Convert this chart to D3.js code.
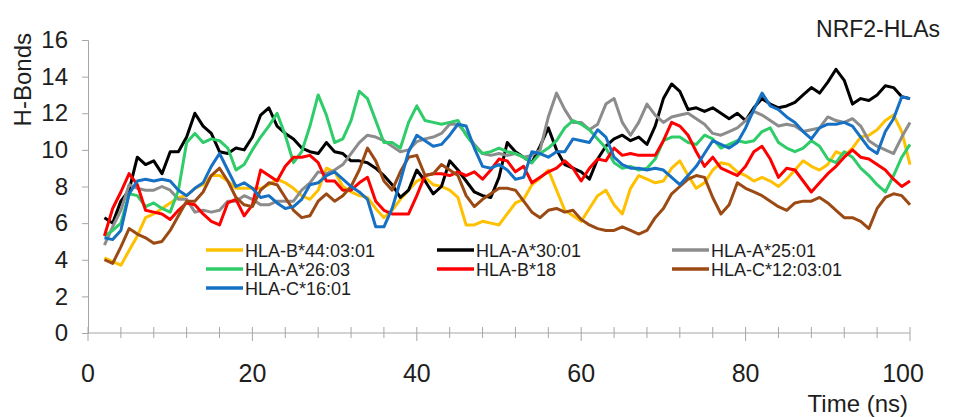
<!DOCTYPE html>
<html>
<head>
<meta charset="utf-8">
<script src="https://cdn.jsdelivr.net/npm/d3@7/dist/d3.min.js"></script>
<style>
  body { margin: 0; background: #fff; }
  svg { display: block; font-family: "Liberation Sans", Arial, sans-serif; }
</style>
</head>
<body>
<svg id="chart" width="955" height="417"></svg>
<script>
// time points (ns)
var times = [2,3,4,5,6,7,8,9,10,11,12,13,14,15,16,17,18,19,20,21,22,23,24,25,26,27,28,29,30,31,
  32,33,34,35,36,37,38,39,40,41,42,43,44,45,46,47,48,49,50,51,52,53,54,55,56,57,58,59,60,61,
  62,63,64,65,66,67,68,69,70,71,72,73,74,75,76,77,78,79,80,81,82,83,84,85,86,87,88,89,90,91,
  92,93,94,95,96,97,98,99,100];

var seriesNames = ["HLA-B*44:03:01", "HLA-A*30:01", "HLA-A*25:01", "HLA-A*26:03", "HLA-B*18", "HLA-C*12:03:01", "HLA-C*16:01"];
var seriesColors = ["#ffc000", "#000000", "#8c8c8c", "#2fcc6a", "#ff0000", "#9c4a14", "#1670c4"];

var b4403 = [4.1,3.9,3.7,4.5,5.3,6.3,6.5,6.8,7.1,7.4,
  7.5,7.9,8.1,8.6,8.6,8.3,7.9,7.9,7.9,7.9,
  8.1,8.4,8.2,7.9,7.5,7.3,7.8,9.0,8.8,8.0,
  7.7,7.5,7.4,6.8,6.3,6.7,7.3,7.8,8.3,8.5,
  8.1,8.0,7.8,7.4,5.9,5.9,6.1,6.0,5.9,6.5,
  7.1,7.3,8.1,8.45,8.9,7.8,6.7,6.4,6.1,6.8,
  7.5,7.8,7.0,6.5,7.9,8.6,8.4,8.2,8.3,9.0,
  9.4,8.6,7.9,8.2,8.9,9.3,9.2,8.8,8.6,8.3,
  8.5,8.3,8.0,8.4,8.9,9.4,9.1,8.9,9.2,9.9,
  9.7,10.1,10.7,10.8,11.1,11.6,11.9,11.0,9.2];

var a3001 = [6.3,6.0,7.2,7.8,9.6,9.2,9.4,8.7,9.9,9.9,
  10.7,12.0,11.3,10.9,9.9,9.8,10.1,10.0,10.7,11.9,
  12.3,11.3,10.9,10.6,10.1,9.9,9.8,10.4,9.9,9.8,
  9.4,9.4,9.3,9.0,8.6,8.1,7.4,7.8,8.9,8.3,
  7.6,8.0,9.4,8.9,8.3,7.7,7.5,7.4,8.5,10.4,
  9.9,9.6,9.3,10.2,11.2,10.0,9.2,9.0,8.8,8.4,
  9.5,10.2,10.6,10.8,10.5,10.7,10.3,11.3,12.8,13.6,
  13.2,12.2,12.3,12.1,12.3,12.0,11.7,12.0,11.6,12.3,
  12.8,12.5,12.3,12.4,12.6,13.0,13.4,13.1,13.7,14.4,
  13.8,12.5,12.8,12.7,13.0,13.5,13.4,12.9,12.8];

var a2501 = [4.8,5.8,6.7,8.1,7.9,7.8,7.8,8.0,7.8,7.3,
  7.3,6.6,6.7,6.6,6.7,7.2,7.2,7.5,7.3,7.0,
  7.0,7.2,7.2,7.2,7.8,8.2,8.8,8.7,8.9,9.2,
  9.8,10.4,10.8,10.7,10.5,10.2,9.9,10.0,10.45,10.6,
  10.7,10.9,11.4,11.4,10.9,10.3,9.8,9.7,9.8,9.7,
  9.8,9.6,9.7,10.0,11.8,13.1,12.2,11.5,11.5,11.1,
  11.4,12.5,12.8,11.5,10.8,11.5,12.5,11.9,11.5,11.8,
  11.9,12.0,11.7,11.4,10.9,10.8,11.0,11.2,11.6,12.1,
  11.9,11.6,11.3,11.4,11.3,11.0,11.1,11.2,11.8,11.6,
  11.5,11.7,11.3,10.5,10.2,10.0,9.8,10.7,11.5];

var a2603 = [5.3,5.6,6.0,7.6,7.5,6.9,7.1,6.8,6.6,7.8,
  10.4,10.9,10.4,10.6,10.5,10.1,8.9,9.2,10.0,10.7,
  11.3,12.0,10.8,9.3,9.9,11.3,13.0,11.9,10.4,10.6,
  11.6,13.2,12.8,11.6,10.4,10.4,10.1,11.5,12.4,11.6,
  11.5,11.4,11.5,11.6,10.8,10.2,9.8,9.9,10.1,9.9,
  9.8,9.6,9.3,9.8,10.1,10.5,11.2,11.6,11.4,11.1,
  10.6,10.1,9.3,9.0,9.1,8.9,9.0,9.5,10.5,10.7,
  10.7,10.4,10.3,10.8,10.6,10.1,10.3,10.5,10.4,10.5,
  11.0,11.2,10.4,10.1,9.9,10.1,10.5,10.2,9.5,9.3,
  9.9,9.6,9.0,8.6,8.1,7.7,8.6,9.6,10.3];

var b18 = [5.3,6.8,7.7,8.7,8.1,6.7,6.6,6.5,6.2,6.7,
  7.1,7.0,6.5,6.1,5.9,7.1,7.3,6.4,7.0,8.9,
  8.6,8.3,9.1,9.6,9.6,9.7,9.3,8.3,8.3,7.8,
  7.8,8.2,8.5,7.2,6.7,6.5,6.5,6.5,7.5,8.6,
  8.7,8.7,8.6,8.8,8.6,8.8,8.4,8.9,9.5,9.4,
  8.8,9.1,8.2,8.5,8.8,9.0,9.4,9.0,8.3,9.0,
  9.5,9.4,10.1,9.7,9.8,9.7,9.7,9.7,10.5,11.5,
  11.3,10.8,9.9,9.1,9.6,9.0,8.8,8.6,9.1,9.9,
  10.2,9.5,8.5,9.0,8.9,8.3,7.7,8.2,8.7,9.1,
  9.6,10.0,9.6,9.5,9.2,8.9,8.4,8.0,8.3];

var c120301 = [4.0,3.8,4.7,5.7,5.4,5.2,4.9,5.0,5.6,6.4,
  7.2,7.2,7.7,8.6,9.0,8.3,7.4,7.0,6.9,7.8,
  8.2,8.1,7.4,6.7,6.3,6.4,7.2,7.6,7.2,7.5,
  8.0,8.9,10.1,9.4,8.3,7.8,8.8,9.6,9.7,8.6,
  8.7,9.2,8.9,8.6,7.5,6.9,7.3,7.6,7.9,7.9,
  7.8,7.2,6.6,6.3,6.7,6.8,6.6,6.7,6.2,5.9,
  5.7,5.6,5.6,5.8,5.6,5.4,5.6,6.3,6.8,7.6,
  8.0,8.4,8.6,8.5,7.4,6.5,7.0,8.2,7.9,7.7,
  7.5,7.2,6.9,6.7,7.1,7.2,7.2,7.4,7.1,6.7,
  6.3,6.3,6.1,5.7,6.8,7.4,7.6,7.5,7.0];

var c1601 = [5.2,5.1,5.6,7.6,8.3,8.4,8.3,8.4,8.3,7.8,
  7.5,7.9,8.2,9.1,9.8,8.9,8.0,8.2,7.9,7.4,
  7.5,7.1,6.8,6.9,7.3,8.1,8.2,8.6,8.8,8.4,
  8.0,7.7,7.3,5.8,5.8,6.8,8.3,9.9,10.8,10.5,
  10.2,10.3,10.8,11.4,11.3,10.1,9.1,9.0,9.2,8.9,
  8.4,8.5,9.9,9.8,9.6,9.9,9.9,10.6,10.5,10.4,
  11.1,10.7,9.6,9.2,9.0,9.0,8.9,9.0,8.9,8.5,
  8.1,8.6,9.1,9.8,10.5,10.3,10.1,10.4,11.2,12.2,
  13.1,12.4,12.2,11.8,11.5,11.0,10.6,11.2,11.4,11.4,
  11.5,11.3,10.7,10.1,9.8,11.0,11.7,12.9,12.8];

var seriesValues = [b4403, a3001, a2501, a2603, b18, c120301, c1601];

var yTicks = [0,2,4,6,8,10,12,14,16];
var xMajor = [0,20,40,60,80,100];
var xMinor = [0,4,8,12,16,20,24,28,32,36,40,44,48,52,56,60,64,68,72,76,80,84,88,92,96,100];

var svg = d3.select("#chart");
var axisColor = "#a6a6a6", textColor = "#1e1e1e";

var x = d3.scaleLinear().domain([0, 100]).range([88, 910]);
var y = d3.scaleLinear().domain([0, 16]).range([333, 40]);

//y axis
var yAxis = d3.axisLeft(y).tickValues(yTicks).tickSize(6).tickPadding(14).tickFormat(d3.format("d"));
var gy = svg.append("g").attr("transform", "translate(88,0)").call(yAxis);
gy.select(".domain").attr("stroke", axisColor);
gy.selectAll(".tick line").attr("stroke", axisColor);
gy.selectAll(".tick text").attr("fill", textColor).style("font-size", "24px")
  .style("font-family", "'Liberation Sans', Arial, sans-serif");

//x axis: line + cross ticks
svg.append("line").attr("x1", x(0)).attr("x2", x(100)).attr("y1", 333).attr("y2", 333)
  .attr("stroke", axisColor);
svg.selectAll(".xminor").data(xMinor).enter().append("line")
  .attr("x1", function(d) { return x(d); }).attr("x2", function(d) { return x(d); })
  .attr("y1", 327).attr("y2", function(d) { return d % 20 === 0 ? 341 : 338; })
  .attr("stroke", axisColor);
// last label sits a little left of its tick, as in the original
svg.selectAll(".xlabel").data(xMajor).enter().append("text")
  .attr("x", function(d) { return d === 100 ? x(d) - 7 : x(d); }).attr("y", 382)
  .attr("text-anchor", "middle").attr("fill", textColor).style("font-size", "25px")
  .text(function(d) { return d; });

svg.append("text").attr("x", 908).attr("y", 412).attr("text-anchor", "end")
  .attr("fill", textColor).style("font-size", "24px").text("Time (ns)");

svg.append("text").attr("transform", "translate(31,33) rotate(-90)")
  .attr("text-anchor", "end").attr("fill", textColor).style("font-size", "24px").text("H-Bonds");

svg.append("text").attr("x", 940).attr("y", 37).attr("text-anchor", "end")
  .attr("fill", textColor).style("font-size", "23px").text("NRF2-HLAs");

//lines
var line = d3.line()
  .x(function(d, i) { return x(times[i]); })
  .y(function(d) { return y(d); });

svg.selectAll(".series").data(seriesValues).enter().append("path")
  .attr("class", "series")
  .attr("d", line)
  .attr("fill", "none")
  .attr("stroke", function(d, i) { return seriesColors[i]; })
  .attr("stroke-width", 3)
  .attr("stroke-linejoin", "round");

//legend, 3 columns
var colX = [206, 437, 672];
var rowY = [250, 269, 288];
var legend = svg.selectAll(".legend").data(seriesNames).enter().append("g")
  .attr("transform", function(d, i) {
    return "translate(" + colX[i % 3] + "," + rowY[Math.floor(i / 3)] + ")";
  });
legend.append("line").attr("x1", 0).attr("x2", 37).attr("y1", 0).attr("y2", 0)
  .attr("stroke", function(d, i) { return seriesColors[i]; })
  .attr("stroke-width", 3.5);
legend.append("text").attr("x", 39).attr("y", 6.5).attr("fill", textColor)
  .style("font-size", "18px").text(function(d) { return d; });
</script>
</body>
</html>
